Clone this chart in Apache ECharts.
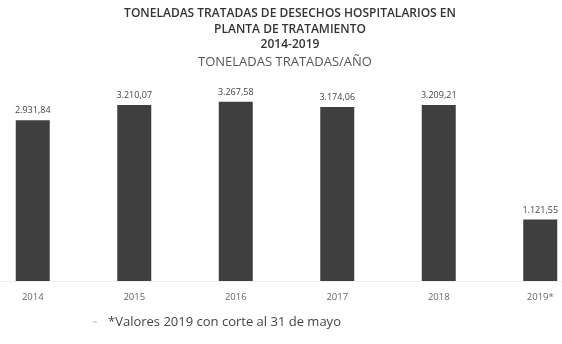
<!DOCTYPE html>
<html>
<head>
<meta charset="utf-8">
<script src="https://cdn.jsdelivr.net/npm/echarts@6/dist/echarts.min.js"></script>
<style>
  html, body { margin: 0; padding: 0; background: #ffffff; overflow: hidden; }
  /* the plot runs a little past both window edges */
  #chart { width: 609px; height: 344px; margin-left: -18px; }
</style>
</head>
<body>
<div id="chart"></div>
<script>
// Toneladas tratadas por año
const years = ['2014', '2015', '2016', '2017', '2018', '2019*'];
const tons = [2931.84, 3210.07, 3267.58, 3174.06, 3209.21, 1121.55];

const titleLines = [
  'TONELADAS TRATADAS DE DESECHOS HOSPITALARIOS EN',
  'PLANTA DE TRATAMIENTO',
  '2014-2019'
];
const subtitle = 'TONELADAS TRATADAS/AÑO';
const footnote = '*Valores 2019 con corte al 31 de mayo';

// Spanish number style: 3.210,07
function fmt(v) {
  const parts = v.toFixed(2).split('.');
  const intPart = parts[0].replace(/\B(?=(\d{3})+(?!\d))/g, '.');
  return intPart + ',' + parts[1];
}

const chart = echarts.init(document.getElementById('chart'));
const font = '"Open Sans", "Liberation Sans", Arial, sans-serif';
const OFF = 18; // horizontal offset of the chart box

// one text element per title line, centred, 15.5px apart
const titleGraphics = titleLines.map((line, i) => ({
  type: 'text',
  x: 290 + OFF,
  y: 14 + i * 15.5,
  style: {
    text: line,
    font: '600 12px ' + font,
    fill: '#333333',
    align: 'center',
    verticalAlign: 'middle'
  }
}));

chart.setOption({
  animation: false,
  backgroundColor: '#ffffff',
  grid: { left: 0, right: 0, top: 89, bottom: 63, containLabel: false },
  xAxis: {
    type: 'category',
    data: years,
    axisLine: { show: true, lineStyle: { color: '#efefef', width: 1 } },
    axisTick: { show: false },
    axisLabel: {
      fontFamily: font, fontSize: 9.5, color: '#666666', margin: 11
    }
  },
  yAxis: {
    type: 'value',
    min: 0,
    max: 3500,
    show: false,
    splitLine: { show: false }
  },
  series: [{
    type: 'bar',
    data: tons,
    barWidth: 34,
    itemStyle: { color: '#3f3f3f' },
    label: {
      show: true,
      position: 'top',
      distance: 5,
      formatter: p => fmt(p.value),
      fontFamily: font, fontSize: 9, color: '#444444'
    }
  }],
  graphic: titleGraphics.concat([
    {
      type: 'text',
      x: 285 + OFF,
      y: 62,
      style: {
        text: subtitle,
        font: '13px ' + font,
        fill: '#555555',
        align: 'center',
        verticalAlign: 'middle'
      }
    },
    {
      type: 'text',
      x: 108 + OFF,
      y: 322,
      style: {
        text: footnote,
        font: '13px ' + font,
        fill: '#444444',
        verticalAlign: 'middle'
      }
    },
    {
      type: 'rect',
      shape: { x: 93 + OFF, y: 321, width: 4, height: 2 },
      style: { fill: '#dddddd' }
    }
  ])
});
</script>
</body>
</html>
